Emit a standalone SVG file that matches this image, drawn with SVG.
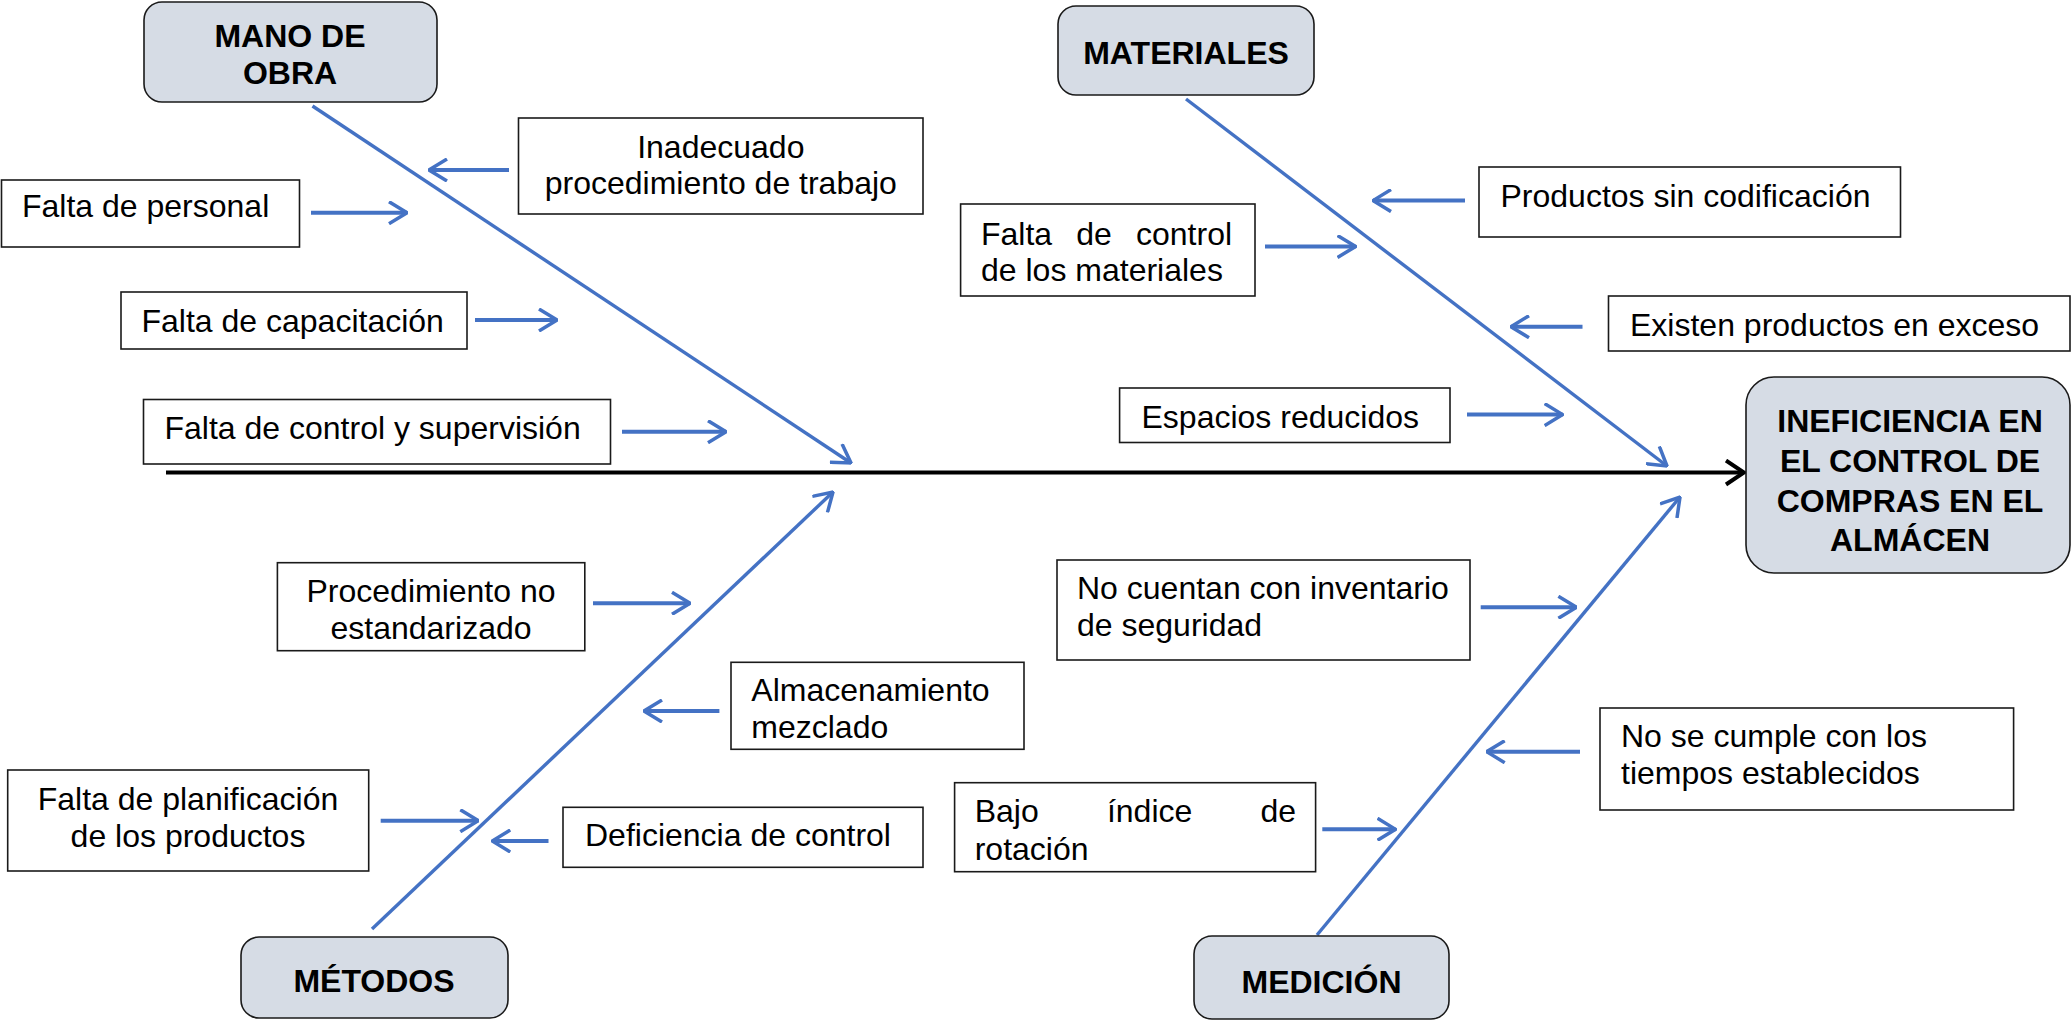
<svg xmlns="http://www.w3.org/2000/svg" width="2072" height="1020" viewBox="0 0 2072 1020">
<defs>
<style>
.cat{fill:#D6DCE5;stroke:#1a1a1a;stroke-width:1.6}
.box{fill:#fff;stroke:#1a1a1a;stroke-width:1.6}
.t{font-family:"Liberation Sans",Arial,sans-serif;font-size:32px;fill:#000}
.b{font-family:"Liberation Sans",Arial,sans-serif;font-size:32px;font-weight:bold;fill:#000;text-anchor:middle}
.c{text-anchor:middle}
.bone{stroke:#4472C4;stroke-width:3.4;fill:none}
.arr{stroke:#4472C4;stroke-width:4;fill:none}
</style>
<marker id="ab" viewBox="0 0 20 24" refX="19" refY="12" markerWidth="20" markerHeight="24" markerUnits="userSpaceOnUse" orient="auto">
<path d="M1,1 L19,12 L1,23" fill="none" stroke="#4472C4" stroke-width="3.5"/>
</marker>
<marker id="ak" viewBox="0 0 22 28" refX="20" refY="14" markerWidth="22" markerHeight="28" markerUnits="userSpaceOnUse" orient="auto">
<path d="M2,2 L20,14 L2,26" fill="none" stroke="#000" stroke-width="4"/>
</marker>
</defs>

<g id="connectors">
<line x1="166" y1="472.5" x2="1744" y2="472.5" stroke="#000" stroke-width="4" marker-end="url(#ak)"/>
<line class="bone" x1="312.5" y1="106" x2="851" y2="463" marker-end="url(#ab)"/>
<line class="bone" x1="1186" y1="99" x2="1667" y2="466" marker-end="url(#ab)"/>
<line class="bone" x1="372" y1="929" x2="833" y2="492" marker-end="url(#ab)"/>
<line class="bone" x1="1317" y1="935" x2="1680" y2="497" marker-end="url(#ab)"/>
<line class="arr" x1="509" y1="170" x2="429" y2="170" marker-end="url(#ab)"/>
<line class="arr" x1="311" y1="212.7" x2="407" y2="212.7" marker-end="url(#ab)"/>
<line class="arr" x1="475" y1="320" x2="557" y2="320" marker-end="url(#ab)"/>
<line class="arr" x1="622" y1="431.7" x2="726" y2="431.7" marker-end="url(#ab)"/>
<line class="arr" x1="1465" y1="200.6" x2="1373" y2="200.6" marker-end="url(#ab)"/>
<line class="arr" x1="1265" y1="246.5" x2="1355.5" y2="246.5" marker-end="url(#ab)"/>
<line class="arr" x1="1582.5" y1="326.7" x2="1511" y2="326.7" marker-end="url(#ab)"/>
<line class="arr" x1="1467" y1="414.6" x2="1562.6" y2="414.6" marker-end="url(#ab)"/>
<line class="arr" x1="593" y1="603.3" x2="690" y2="603.3" marker-end="url(#ab)"/>
<line class="arr" x1="719.4" y1="711" x2="644" y2="711" marker-end="url(#ab)"/>
<line class="arr" x1="380.7" y1="820.7" x2="478.3" y2="820.7" marker-end="url(#ab)"/>
<line class="arr" x1="548.5" y1="841" x2="492.3" y2="841" marker-end="url(#ab)"/>
<line class="arr" x1="1480.7" y1="607.3" x2="1576.4" y2="607.3" marker-end="url(#ab)"/>
<line class="arr" x1="1580" y1="751.7" x2="1486.7" y2="751.7" marker-end="url(#ab)"/>
<line class="arr" x1="1322.3" y1="829.3" x2="1395.5" y2="829.3" marker-end="url(#ab)"/>
</g>

<g id="mano-de-obra">
<rect class="cat" x="144" y="2" width="293" height="100" rx="18"/>
<text class="b" x="290" y="47">MANO DE</text>
<text class="b" x="290" y="84">OBRA</text>
</g>
<g id="materiales">
<rect class="cat" x="1058" y="6" width="256" height="89" rx="18"/>
<text class="b" x="1186" y="64">MATERIALES</text>
</g>
<g id="metodos">
<rect class="cat" x="241" y="937" width="267" height="81" rx="18"/>
<text class="b" x="374" y="992">MÉTODOS</text>
</g>
<g id="medicion">
<rect class="cat" x="1194" y="936" width="255" height="83" rx="18"/>
<text class="b" x="1321.5" y="993">MEDICIÓN</text>
</g>
<g id="efecto">
<rect class="cat" x="1746" y="377" width="324" height="196" rx="28"/>
<text class="b" x="1910" y="432">INEFICIENCIA EN</text>
<text class="b" x="1910" y="472">EL CONTROL DE</text>
<text class="b" x="1910" y="512">COMPRAS EN EL</text>
<text class="b" x="1910" y="551">ALMÁCEN</text>
</g>

<g id="inadecuado">
<rect class="box" x="518.5" y="118" width="404.5" height="96"/>
<text class="t c" x="720.8" y="158">Inadecuado</text>
<text class="t c" x="720.8" y="194">procedimiento de trabajo</text>
</g>
<g id="falta-personal">
<rect class="box" x="1.5" y="180" width="298" height="67"/>
<text class="t" x="22" y="217">Falta de personal</text>
</g>
<g id="falta-capacitacion">
<rect class="box" x="121" y="292" width="346" height="57"/>
<text class="t" x="141.5" y="332">Falta de capacitación</text>
</g>
<g id="falta-supervision">
<rect class="box" x="143.5" y="399.5" width="467" height="64.5"/>
<text class="t" x="164.5" y="439">Falta de control y supervisión</text>
</g>
<g id="productos-sin-codificacion">
<rect class="box" x="1479" y="167" width="421.5" height="70"/>
<text class="t" x="1500.5" y="207">Productos sin codificación</text>
</g>
<g id="falta-control-materiales">
<rect class="box" x="960.6" y="204" width="294.4" height="92"/>
<text class="t" y="245"><tspan x="981">Falta</tspan><tspan x="1076.3">de</tspan><tspan x="1136">control</tspan></text>
<text class="t" x="981" y="281">de los materiales</text>
</g>
<g id="existen-productos">
<rect class="box" x="1608.5" y="296" width="461.5" height="55"/>
<text class="t" x="1630" y="336">Existen productos en exceso</text>
</g>
<g id="espacios-reducidos">
<rect class="box" x="1119.6" y="388" width="330.4" height="54.5"/>
<text class="t" x="1141.5" y="428">Espacios reducidos</text>
</g>
<g id="procedimiento">
<rect class="box" x="277.4" y="562.7" width="307.4" height="88"/>
<text class="t c" x="431" y="602">Procedimiento no</text>
<text class="t c" x="431" y="639">estandarizado</text>
</g>
<g id="almacenamiento">
<rect class="box" x="731" y="662.3" width="293" height="87"/>
<text class="t" x="751.3" y="701">Almacenamiento</text>
<text class="t" x="751.3" y="738">mezclado</text>
</g>
<g id="falta-planificacion">
<rect class="box" x="7.7" y="770" width="361" height="101"/>
<text class="t c" x="188" y="810">Falta de planificación</text>
<text class="t c" x="188" y="847">de los productos</text>
</g>
<g id="deficiencia-control">
<rect class="box" x="563" y="807.3" width="360" height="60"/>
<text class="t" x="585" y="846">Deficiencia de control</text>
</g>
<g id="inventario-seguridad">
<rect class="box" x="1057" y="560" width="413" height="100"/>
<text class="t" x="1077" y="599">No cuentan con inventario</text>
<text class="t" x="1077" y="636">de seguridad</text>
</g>
<g id="tiempos-establecidos">
<rect class="box" x="1600" y="708" width="413.6" height="102"/>
<text class="t" x="1621" y="747">No se cumple con los</text>
<text class="t" x="1621" y="784">tiempos establecidos</text>
</g>
<g id="bajo-indice">
<rect class="box" x="954.6" y="782.7" width="361" height="89"/>
<text class="t" y="822"><tspan x="974.7">Bajo</tspan><tspan x="1106.9">índice</tspan><tspan x="1260.5">de</tspan></text>
<text class="t" x="974.7" y="860">rotación</text>
</g>
</svg>
